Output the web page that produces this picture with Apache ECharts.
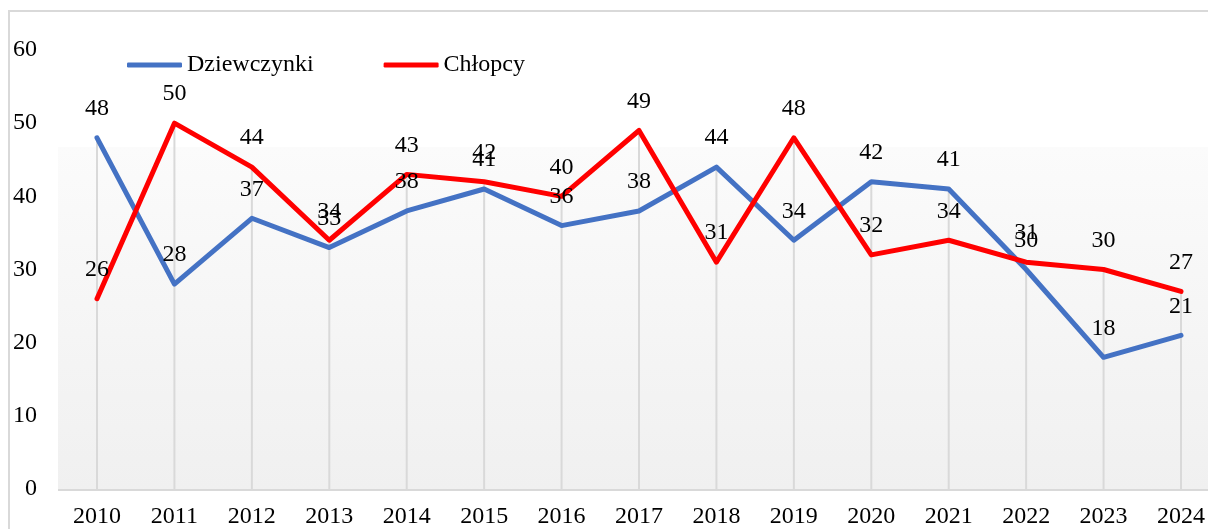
<!DOCTYPE html>
<html>
<head>
<meta charset="utf-8">
<script src="https://cdn.jsdelivr.net/npm/echarts@6/dist/echarts.min.js"></script>
<style>
  html, body { margin: 0; padding: 0; background: #fff; }
  #el { width: 1208px; height: 529px; }
</style>
</head>
<body>
<div id="el"></div>
<script>
// data
const years = ['2010', '2011', '2012', '2013', '2014', '2015', '2016', '2017', '2018', '2019', '2020', '2021', '2022', '2023', '2024']
const dziewczynki = [48, 28, 37, 33, 38, 41, 36, 38, 44, 34, 42, 41, 30, 18, 21]
const chlopcy = [26, 50, 44, 34, 43, 42, 40, 49, 31, 48, 32, 34, 31, 30, 27]
const yTicks = [0, 10, 20, 30, 40, 50, 60]

// drop lines: from the higher of the two points down to the axis
const dropLines = years.map((y, i) => Math.max(dziewczynki[i], chlopcy[i]))

const font = "'Times New Roman', 'Liberation Serif', serif"
const chart = echarts.init(document.getElementById('el'))

const mkSeries = (name, data, color) => ({
  name: name,
  type: 'line',
  data: data,
  z: 3,
  symbol: 'circle',
  symbolSize: 0,
  itemStyle: { color: color },
  lineStyle: { color: color, width: 5, cap: 'round', join: 'round' },
  label: {
    show: true,
    position: 'top',
    distance: 17,
    color: '#000',
    fontFamily: font,
    fontSize: 24
  },
  emphasis: { disabled: true }
})

const option = {
  animation: false,
  backgroundColor: '#fff',
  textStyle: { fontFamily: font },
  graphic: [
    {
      // plot area fill (Excel gradient)
      type: 'rect',
      z: -10,
      silent: true,
      shape: { x: 58, y: 147, width: 1160, height: 343 },
      style: {
        fill: {
          type: 'linear', x: 0, y: 0, x2: 0, y2: 1,
          colorStops: [
            { offset: 0, color: '#fbfbfb' },
            { offset: 1, color: '#f0f0f0' }
          ]
        }
      }
    },
    {
      type: 'line',
      z: -5,
      silent: true,
      shape: { x1: 58, y1: 490, x2: 1208, y2: 490 },
      style: { stroke: '#d9d9d9', lineWidth: 2 }
    },
    {
      type: 'rect',
      silent: true,
      shape: { x: 9, y: 11, width: 1400, height: 700 },
      style: { fill: 'none', stroke: '#d9d9d9', lineWidth: 2 }
    }
  ],
  legend: {
    left: 127,
    top: 53,
    padding: 0,
    itemWidth: 55,
    itemHeight: 5,
    itemGap: 70,
    icon: 'roundRect',
    textStyle: { fontFamily: font, fontSize: 24, color: '#000' },
    data: [
      { name: 'Dziewczynki', itemStyle: { color: '#4472c4' } },
      { name: 'Chłopcy', itemStyle: { color: '#ff0000' } }
    ]
  },
  grid: {
    left: 97,
    right: 27,
    top: 50,
    bottom: 39
  },
  xAxis: {
    type: 'category',
    boundaryGap: false,
    data: years,
    axisLine: { show: false },
    axisTick: { show: false },
    splitLine: { show: false },
    axisLabel: { color: '#000', fontFamily: font, fontSize: 24, margin: 16 }
  },
  yAxis: {
    type: 'value',
    min: yTicks[0],
    max: yTicks[yTicks.length - 1],
    interval: 10,
    axisLine: { show: false },
    axisTick: { show: false },
    splitLine: { show: false },
    axisLabel: { color: '#000', fontFamily: font, fontSize: 24, margin: 60 }
  },
  series: [
    {
      name: 'drop',
      type: 'bar',
      data: dropLines,
      barWidth: 2,
      z: 1,
      silent: true,
      itemStyle: { color: '#d9d9d9' },
      emphasis: { disabled: true }
    },
    mkSeries('Dziewczynki', dziewczynki, '#4472c4'),
    mkSeries('Chłopcy', chlopcy, '#ff0000')
  ]
}
option && chart.setOption(option)
</script>
</body>
</html>
